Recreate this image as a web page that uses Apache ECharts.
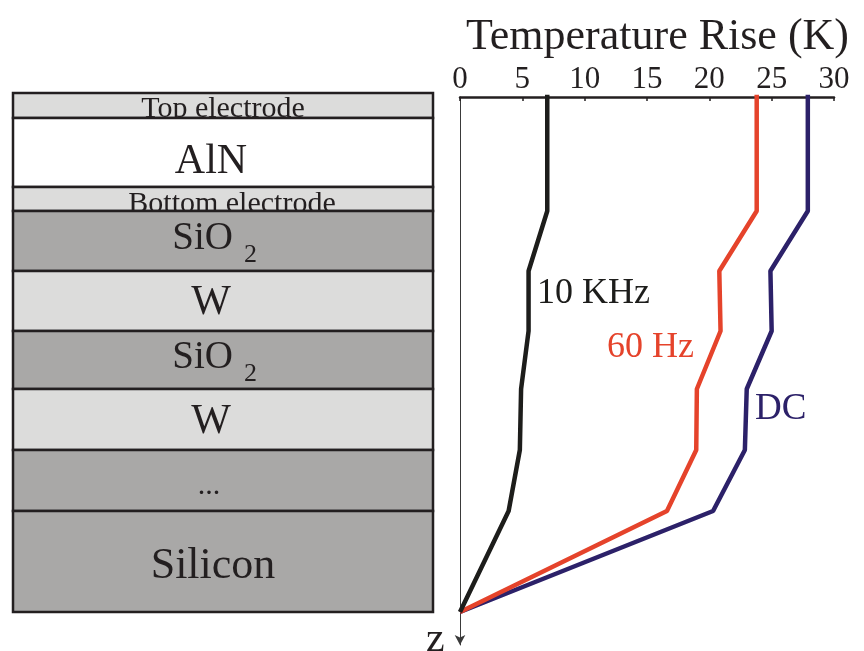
<!DOCTYPE html>
<html>
<head>
<meta charset="utf-8">
<script src="https://cdn.jsdelivr.net/npm/echarts@6/dist/echarts.min.js"></script>
<style>html,body{margin:0;padding:0;background:#fff}#c{width:864px;height:651px}</style>
</head>
<body>
<div id="c"></div>
<script>
// ---- data ----
const layerNames = ['Top electrode', 'AlN', 'Bottom electrode', 'SiO2', 'W', 'SiO2', 'W', '...', 'Silicon'];
const layerBounds = [0, 25, 94, 118, 178, 238, 296, 357, 418, 519]; // depth (arb. units)
const depthPoints = [0, 118, 178, 238, 296, 357, 418, 519];
const rise10kHz = [7.0, 7.0, 5.5, 5.5, 4.9, 4.8, 3.9, 0];
const rise60Hz = [23.8, 23.8, 20.8, 20.9, 19.0, 18.95, 16.6, 0];
const riseDC = [27.9, 27.9, 24.9, 25.0, 23.0, 22.85, 20.3, 0];
const seriesNames = ['10 KHz', '60 Hz', 'DC'];
const tempMin = 0, tempMax = 30, tempStep = 5;

// ---- styles ----
const SERIF = '"Liberation Serif", "DejaVu Serif", serif';
const LIGHT = '#dcdcdb', DARK = '#a9a8a7', INK = '#231f20';
const layerStyle = {
  'Top electrode': {fill: LIGHT, fs: 30, dx: 0, dy: 4},
  'AlN': {fill: '#ffffff', fs: 42, dx: -12, dy: 9},
  'Bottom electrode': {fill: LIGHT, fs: 30, dx: 9, dy: 5},
  'SiO2': {fill: DARK, fs: 39, dx: 10, dy: -2, sub: true},
  'W': {fill: LIGHT, fs: 42, dx: -12, dy: 2},
  '...': {fill: DARK, fs: 30, dx: -14, dy: 6},
  'Silicon': {fill: DARK, fs: 44, dx: -10, dy: 5}
};
const lineColors = ['#1d1d1b', '#e5432b', '#2c2169'];

const layerData = layerNames.map((n, i) => [layerBounds[i], layerBounds[i + 1], i]);
const mk = arr => depthPoints.map((d, i) => [arr[i], d]);

const chart = echarts.init(document.getElementById('c'), null, {renderer: 'canvas'});
chart.setOption({
  backgroundColor: '#fff',
  animation: false,
  title: {
    text: 'Temperature Rise (K)', left: 461, top: 10,
    textStyle: {fontFamily: SERIF, fontSize: 44, fontWeight: 'normal', color: INK}
  },
  grid: [
    {left: 13, top: 93, width: 420, height: 519},
    {left: 460, top: 97, width: 374, height: 548}
  ],
  xAxis: [
    {gridIndex: 0, type: 'value', min: 0, max: 1, show: false},
    {gridIndex: 1, type: 'value', position: 'top', min: tempMin, max: tempMax, interval: tempStep,
     axisLine: {show: true, lineStyle: {color: INK, width: 2.5}},
     axisTick: {show: true, inside: true, length: 4, lineStyle: {color: INK, width: 1.5}},
     axisLabel: {margin: 2, fontFamily: SERIF, fontSize: 31, color: INK},
     splitLine: {show: false}}
  ],
  yAxis: [
    {gridIndex: 0, type: 'value', min: 0, max: 519, inverse: true, show: false},
    {gridIndex: 1, type: 'value', min: 4, max: 552, inverse: true,
     axisLine: {show: true, onZero: false, symbol: ['arrow', 'none'], symbolSize: [8, 10],
                lineStyle: {color: '#3a3a3a', width: 1}},
     axisTick: {show: false}, axisLabel: {show: false}, splitLine: {show: false}}
  ],
  graphic: [
    {type: 'text', x: 537, y: 294, style: {text: seriesNames[0], font: '36px ' + SERIF, fill: lineColors[0], verticalAlign: 'middle'}},
    {type: 'text', x: 607, y: 348, style: {text: seriesNames[1], font: '36px ' + SERIF, fill: lineColors[1], verticalAlign: 'middle'}},
    {type: 'text', x: 755, y: 409, style: {text: seriesNames[2], font: '37px ' + SERIF, fill: lineColors[2], verticalAlign: 'middle'}},
    {type: 'text', x: 426, y: 640, style: {text: 'z', font: '42px ' + SERIF, fill: INK, verticalAlign: 'middle'}}
  ],
  series: [
    {
      type: 'custom', xAxisIndex: 0, yAxisIndex: 0, clip: false, silent: true,
      data: layerData,
      renderItem: function (params, api) {
        const i = params.dataIndex;
        const name = layerNames[i];
        const st = layerStyle[name];
        const p1 = api.coord([0, api.value(0)]);
        const p2 = api.coord([1, api.value(1)]);
        const x = p1[0], y = p1[1], w = p2[0] - p1[0], h = p2[1] - p1[1];
        const cx = x + w / 2 + st.dx, cy = y + h / 2 + st.dy;
        const children = [{
          type: 'rect', shape: {x: x, y: y, width: w, height: h},
          style: {fill: st.fill, stroke: INK, lineWidth: 2.5}
        }];
        if (st.sub) {
          children.push({type: 'text', x: cx, y: cy,
            style: {text: 'SiO', font: st.fs + 'px ' + SERIF, fill: INK, align: 'right', verticalAlign: 'middle'}});
          children.push({type: 'text', x: cx + 11, y: cy + 16,
            style: {text: '2', font: '26px ' + SERIF, fill: INK, align: 'left', verticalAlign: 'middle'}});
        } else {
          children.push({type: 'text', x: cx, y: cy,
            style: {text: name, font: st.fs + 'px ' + SERIF, fill: INK, align: 'center', verticalAlign: 'middle'}});
        }
        return {type: 'group', children: children};
      }
    },
    {name: seriesNames[0], type: 'line', xAxisIndex: 1, yAxisIndex: 1, data: mk(rise10kHz), symbol: 'none',
     lineStyle: {color: lineColors[0], width: 4.5}, z: 4},
    {name: seriesNames[1], type: 'line', xAxisIndex: 1, yAxisIndex: 1, data: mk(rise60Hz), symbol: 'none',
     lineStyle: {color: lineColors[1], width: 4.5}, z: 3},
    {name: seriesNames[2], type: 'line', xAxisIndex: 1, yAxisIndex: 1, data: mk(riseDC), symbol: 'none',
     lineStyle: {color: lineColors[2], width: 4.5}, z: 2}
  ]
});
</script>
</body>
</html>
